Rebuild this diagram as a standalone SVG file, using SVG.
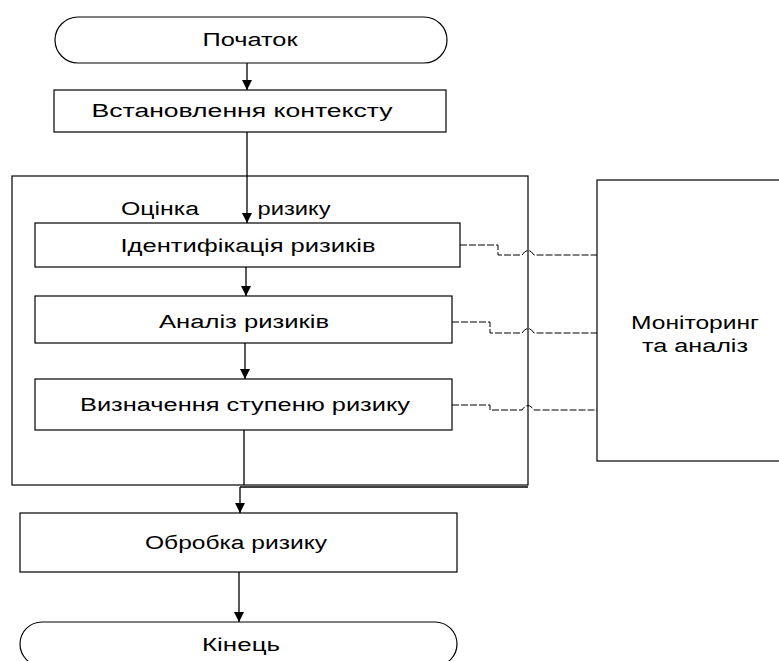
<svg xmlns="http://www.w3.org/2000/svg" width="779" height="661" viewBox="0 0 779 661">
<style>
.box{fill:#fff;stroke:#000;stroke-width:1.2}
.t{font-family:"Liberation Sans",Arial,sans-serif;font-size:18px;fill:#000;text-anchor:middle}
.c{fill:none;stroke:#000;stroke-width:1.3}
.d{fill:none;stroke:#000;stroke-width:1;stroke-dasharray:7 2}
</style>
<defs>
<marker id="ah" viewBox="0 0 10 10" refX="10" refY="5" markerWidth="10" markerHeight="10" markerUnits="userSpaceOnUse" orient="auto">
<path d="M0,0 L10,5 L0,10 z" fill="#000"/>
</marker>
</defs>
<rect width="779" height="661" fill="#fff"/>
<g id="assessment">
<rect class="box" x="12" y="176" width="516" height="309"/>
<text class="t" x="160" y="215" textLength="78" lengthAdjust="spacingAndGlyphs">Оцінка</text>
<text class="t" x="294" y="215" textLength="73" lengthAdjust="spacingAndGlyphs">ризику</text>
</g>
<g id="start">
<rect class="box" x="55" y="17" width="392" height="46" rx="23"/>
<text class="t" x="250" y="46" textLength="95" lengthAdjust="spacingAndGlyphs">Початок</text>
</g>
<g id="context">
<rect class="box" x="54" y="90" width="392" height="42"/>
<text class="t" x="242" y="117" textLength="301" lengthAdjust="spacingAndGlyphs">Встановлення контексту</text>
</g>
<g id="identification">
<rect class="box" x="35" y="223" width="425" height="44"/>
<text class="t" x="248" y="252" textLength="255" lengthAdjust="spacingAndGlyphs">Ідентифікація ризиків</text>
</g>
<g id="analysis">
<rect class="box" x="35" y="296" width="417" height="47"/>
<text class="t" x="244" y="328" textLength="170" lengthAdjust="spacingAndGlyphs">Аналіз ризиків</text>
</g>
<g id="degree">
<rect class="box" x="35" y="379" width="417" height="51"/>
<text class="t" x="245" y="411" textLength="330" lengthAdjust="spacingAndGlyphs">Визначення ступеню ризику</text>
</g>
<g id="monitoring">
<rect class="box" x="597" y="180" width="190" height="281"/>
<text class="t" x="695" y="329" textLength="128" lengthAdjust="spacingAndGlyphs">Моніторинг</text>
<text class="t" x="695" y="352" textLength="106" lengthAdjust="spacingAndGlyphs">та аналіз</text>
</g>
<g id="treatment">
<rect class="box" x="20" y="513" width="437" height="59"/>
<text class="t" x="236" y="549" textLength="182" lengthAdjust="spacingAndGlyphs">Обробка ризику</text>
</g>
<g id="end">
<rect class="box" x="20" y="622" width="437" height="44" rx="22"/>
<text class="t" x="241" y="651" textLength="78" lengthAdjust="spacingAndGlyphs">Кінець</text>
</g>
<g id="connectors">
<path class="c" d="M247,63 V90" marker-end="url(#ah)"/>
<path class="c" d="M247,132 V223" marker-end="url(#ah)"/>
<path class="c" d="M246,267 V296" marker-end="url(#ah)"/>
<path class="c" d="M245,343 V379" marker-end="url(#ah)"/>
<path class="c" d="M244,430 V485 M240,487 V513" marker-end="url(#ah)"/>
<path class="c" d="M240,487 H528"/>
<path class="c" d="M239,572 V622" marker-end="url(#ah)"/>
<path class="d" d="M460,245 H498 V255 H522 Q528,246 534,255 H597"/>
<path class="d" d="M452,322 H490 V333 H522 Q528,324 534,333 H597"/>
<path class="d" d="M452,405 H490 V410 H522 Q528,401 534,410 H597"/>
</g>
</svg>
